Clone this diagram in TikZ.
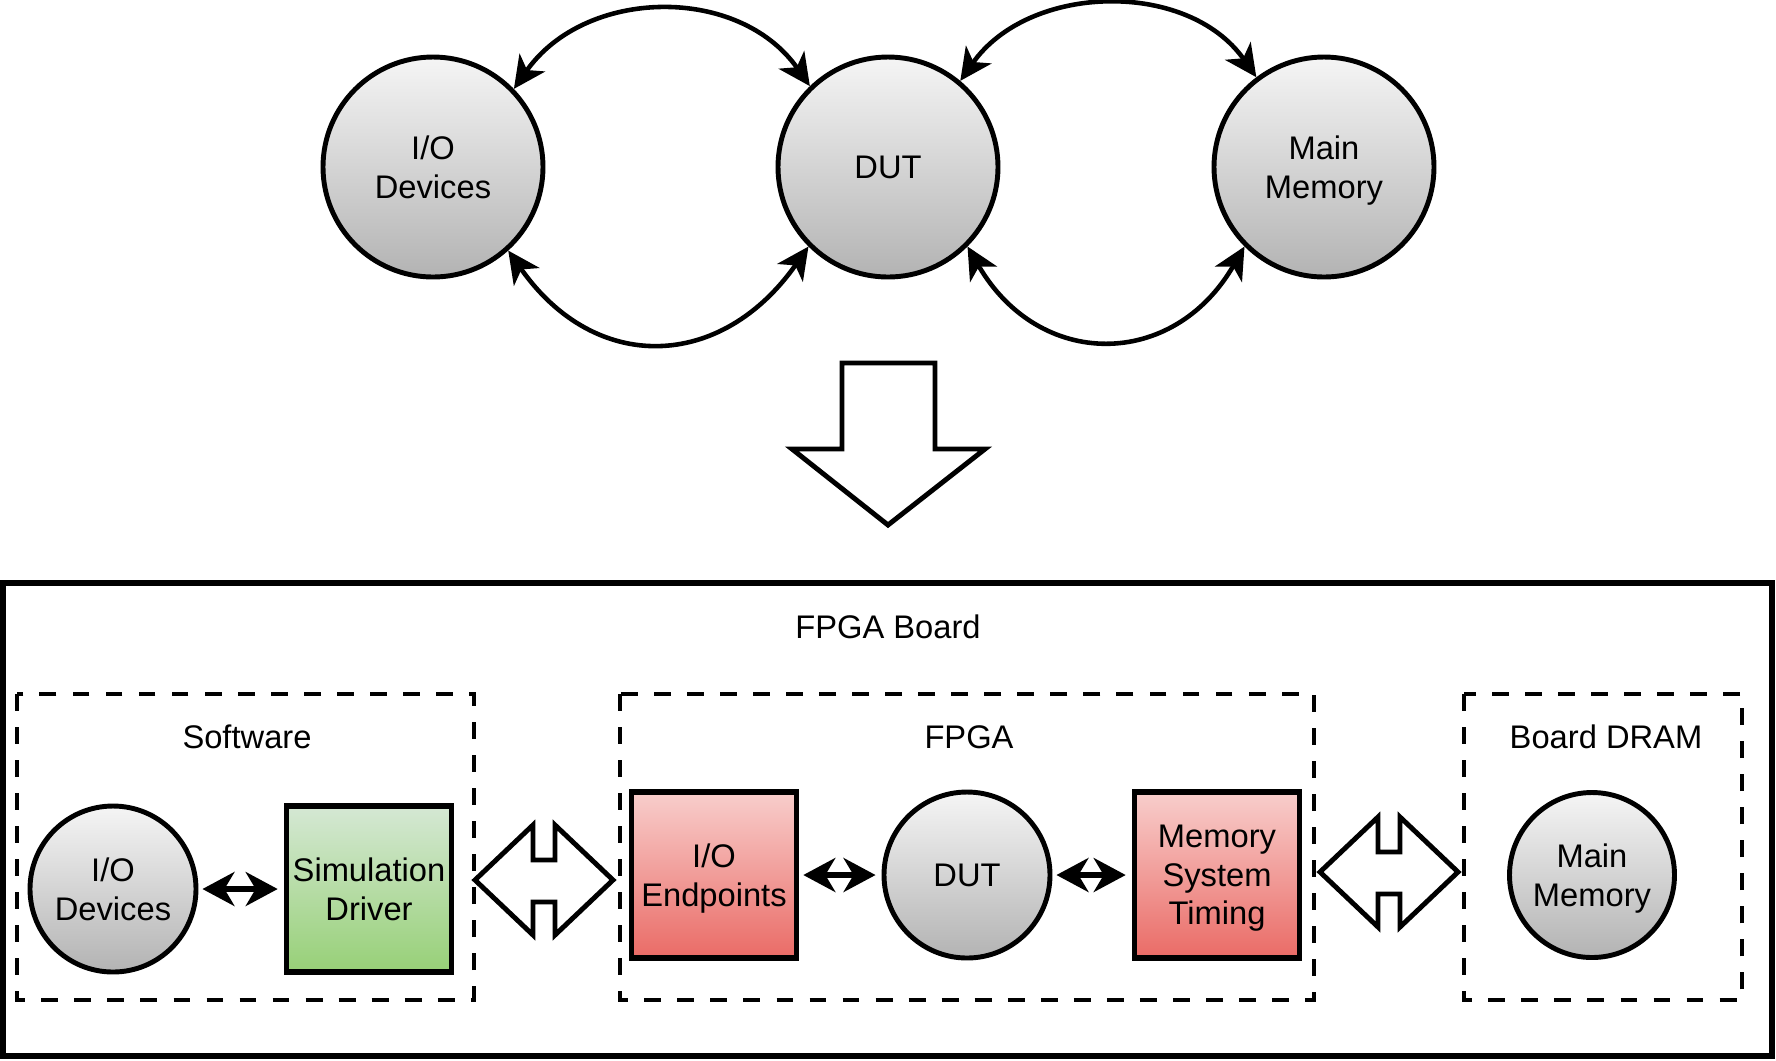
\documentclass[tikz,border=0pt]{standalone}
\usepackage{fontspec}
\setmainfont{Liberation Sans}
\usetikzlibrary{arrows.meta}
\definecolor{unittop}{HTML}{F5F5F5}
\definecolor{unitbot}{HTML}{B3B3B3}
\definecolor{drvtop}{HTML}{D5E8D4}
\definecolor{drvbot}{HTML}{97D077}
\definecolor{fpgatop}{HTML}{F8CECC}
\definecolor{fpgabot}{HTML}{EA6B66}

\begin{document}
\begin{tikzpicture}[x=0.1mm,y=0.1mm]
				\tikzstyle{every node}+=[inner sep=0pt, align=center, text depth=0pt, font=\fontsize{9.3}{10.9}\selectfont]
				\tikzstyle{unit}=[circle, draw=black, line width=1.4pt, top color=unittop, bottom color=unitbot]
				\tikzstyle{block}=[rectangle, draw=black, line width=1.6pt, minimum width=16.5mm, minimum height=16.6mm]
				\tikzstyle{link}=[line width=1.3pt, >={Stealth[length=3.2mm,width=3.1mm,inset=0.9mm]}, <->]
				\tikzstyle{pair}=[line width=1.5pt, shorten <=0.4mm, shorten >=0.6mm, >={Stealth[length=3.2mm,width=3.4mm,inset=1mm]}, <->]
				\tikzstyle{group}=[line width=1.4pt, dash pattern=on 4.8pt off 4.6pt]
				\tikzstyle{hollow}=[draw=black, fill=white, line width=1.4pt, line join=miter]
				\useasboundingbox (0,0) rectangle (1776,-1060);
				% system as seen by the DUT
				\node [unit, minimum size=22mm] (io) at (433,-167) {I/O\\Devices};
				\node [unit, minimum size=22mm] (dut) at (888,-167) {DUT};
				\node [unit, minimum size=22mm] (mem) at (1324,-167) {Main\\Memory};
				\draw [link] (io.44) to [out=55, in=125, looseness=1.07] (dut.134);
				\draw [link] (io.-48) to [out=-55, in=-125, looseness=1.29] (dut.-135);
				\draw [link] (dut.50) to [out=55, in=125, looseness=1.03] (mem.127);
				\draw [link] (dut.-45) to [out=-60, in=-120, looseness=1.32] (mem.-135);
				% mapping arrow
				\draw [hollow] (842,-363) -- (935,-363) -- (935,-449) -- (985,-449) -- (888,-525) -- (792,-449) -- (842,-449) -- cycle;
				% board
				\draw [line width=1.6pt] (3,-583) rectangle (1772,-1056);
				\node (board) at (888,-627) {FPGA Board};
				\draw [group] (17,-694) rectangle (474,-1000);
				\draw [group] (620,-694) rectangle (1314,-1000);
				\draw [group] (1464,-694) rectangle (1742,-1000);
				\node (sw) at (247,-737) {Software};
				\node (fpga) at (969,-737) {FPGA};
				\node (dram) at (1606,-737) {Board DRAM};
				\node [unit, minimum size=16.6mm] (iob) at (113,-889) {I/O\\Devices};
				\node [block, top color=drvtop, bottom color=drvbot] (drv) at (369,-889) {Simulation\\Driver};
				\node [block, top color=fpgatop, bottom color=fpgabot] (endp) at (714,-875) {I/O\\Endpoints};
				\node [unit, minimum size=16.6mm] (dutb) at (967,-875) {DUT};
				\node [block, top color=fpgatop, bottom color=fpgabot] (mst) at (1217,-875) {Memory\\System\\Timing};
				\node [unit, minimum size=16.5mm] (memb) at (1592,-875) {Main\\Memory};
				\draw [pair] (iob.east) -- (drv.west);
				\draw [pair] (endp.east) -- (dutb.west);
				\draw [pair] (dutb.east) -- (mst.west);
				% links between the parts
				\foreach \cx/\cy in {544/880, 1389/872}
					\draw [hollow] (\cx-69,-\cy) -- ++(58,55) -- ++(0,-35) -- ++(22,0) -- ++(0,35) -- ++(58,-55) -- ++(-58,-55) -- ++(0,33) -- ++(-22,0) -- ++(0,-33) -- cycle;
\end{tikzpicture}
\end{document}
